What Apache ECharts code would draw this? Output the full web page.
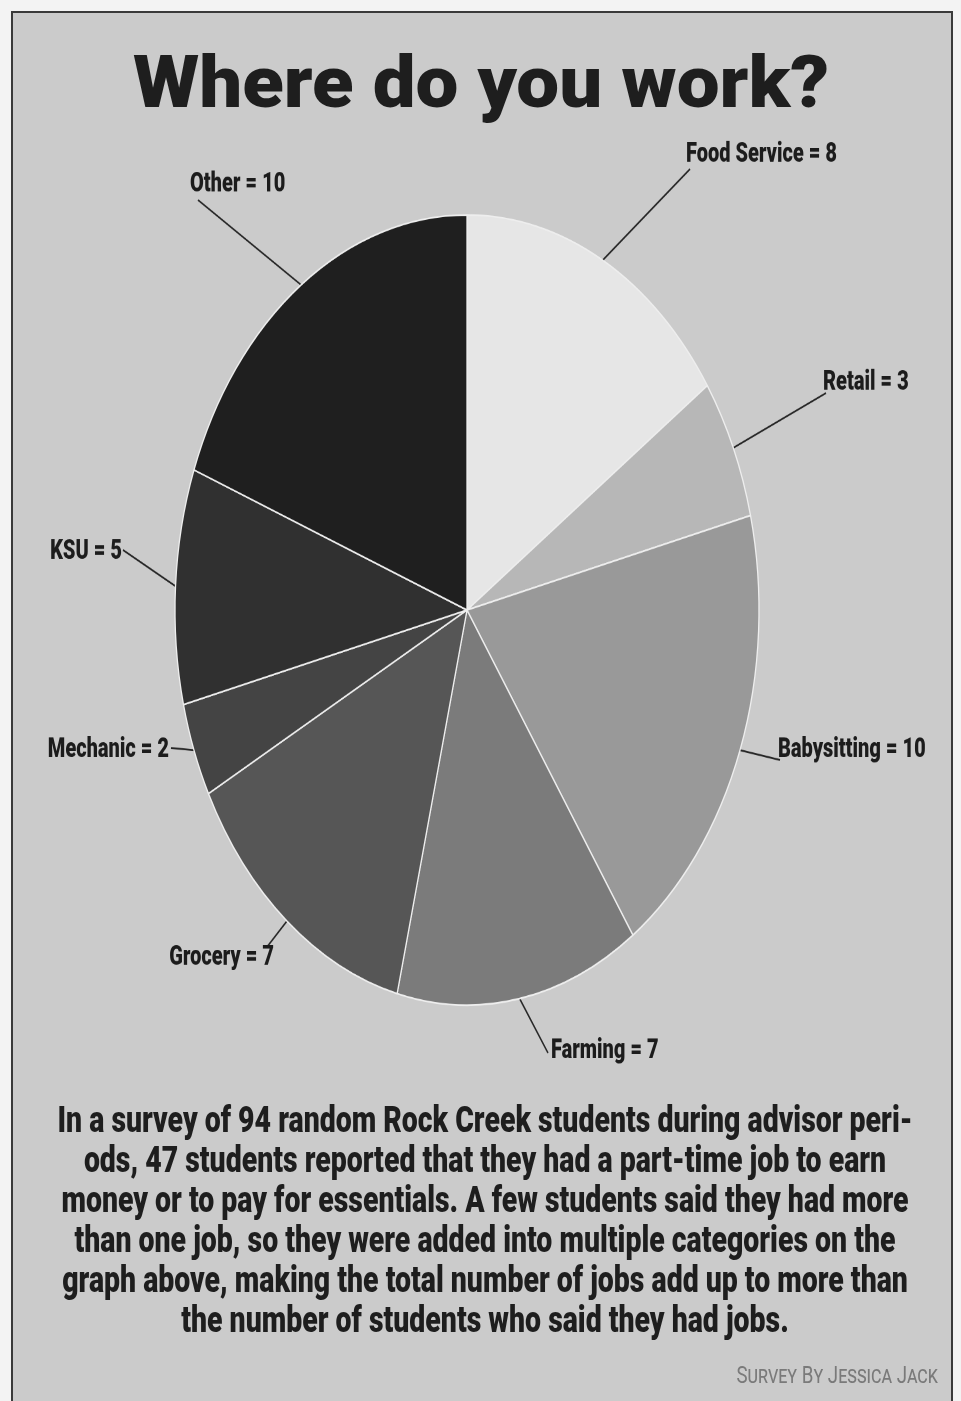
<!DOCTYPE html>
<html><head><meta charset="utf-8">
<script src="https://cdn.jsdelivr.net/npm/echarts@6/dist/echarts.min.js"></script>
<style>
html,body{margin:0;padding:0;background:#f3f3f3;overflow:hidden;}
#bg{position:absolute;left:0;top:0;width:961px;height:1401px;}
#pie{position:absolute;left:0;top:0;width:961px;height:1036px;transform:scaleY(1.353);transform-origin:0 0;}
</style></head><body>
<div id="bg"></div><div id="pie"></div>
<script>
// ---- data ----
const categories = ['Food Service', 'Retail', 'Babysitting', 'Farming', 'Grocery', 'Mechanic', 'KSU', 'Other'];
const jobCounts = [8, 3, 10, 7, 7, 2, 5, 10];
const titleText = 'Where do you work?';
const captionLines = [
  'In a survey of 94 random Rock Creek students during advisor peri-',
  'ods, 47 students reported that they had a part-time job to earn',
  'money or to pay for essentials. A few students said they had more',
  'than one job, so they were added into multiple categories on the',
  'graph above, making the total number of jobs add up to more than',
  'the number of students who said they had jobs.'
];
const creditText = 'Survey By Jessica Jack';

// ---- styles / layout ----
const S = 1.353; // vertical stretch of the pie (ellipse)
const sliceColors = ['#e6e6e6', '#b7b7b7', '#999999', '#7b7b7b', '#565656', '#444444', '#303030', '#1f1f1f'];
// label placement in page pixels: anchor x, center y, alignment, guide-line end
const labelPlacement = {
  'Food Service': { x: 686, y: 155, align: 'left', ex: 690, ey: 169 },
  'Retail': { x: 823, y: 383, align: 'left', ex: 826, ey: 393 },
  'Babysitting': { x: 778, y: 750, align: 'left', ex: 780, ey: 760 },
  'Farming': { x: 551, y: 1051, align: 'left', ex: 548, ey: 1053 },
  'Grocery': { x: 274, y: 958, align: 'right', ex: 267, ey: 947 },
  'Mechanic': { x: 169, y: 750, align: 'right', ex: 171, ey: 748 },
  'KSU': { x: 122, y: 552, align: 'right', ex: 123, ey: 550 },
  'Other': { x: 190, y: 185, align: 'left', ex: 198, ey: 200 }
};

const bg = echarts.init(document.getElementById('bg'), null, { renderer: 'canvas' });
const captionEls = captionLines.map((line, i) => ({
  type: 'text', x: 485, y: 1123 + i * 40, scaleX: 0.79, originX: 0, originY: 0,
  style: { text: line, fill: '#1e1e1e', font: '900 36px Roboto', textAlign: 'center', textVerticalAlign: 'middle' }
}));
bg.setOption({
  animation: false,
  graphic: [
    { type: 'rect', shape: { x: 0, y: 0, width: 961, height: 1401 }, style: { fill: '#f3f3f3' } },
    { type: 'rect', shape: { x: 12, y: 12, width: 940, height: 1400 }, style: { fill: '#cbcbcb', stroke: '#3a3a3a', lineWidth: 2 } },
    { type: 'text', x: 481, y: 89, scaleX: 1.045, originX: 0, originY: 0,
      style: { text: titleText, fill: '#1e1e1e', font: '900 73px Roboto', textAlign: 'center', textVerticalAlign: 'middle' } },
    ...captionEls,
    { type: 'text', x: 938, y: 1377, scaleX: 0.78, originX: 0, originY: 0,
      style: { text: creditText, fill: '#7a7a7a', font: 'small-caps 24px Roboto', textAlign: 'right', textVerticalAlign: 'middle' } }
  ]
});

const pie = echarts.init(document.getElementById('pie'), null, { renderer: 'canvas', devicePixelRatio: 2 });
pie.setOption({
  animation: false,
  series: [{
    type: 'pie',
    center: [467, 610 / S],
    radius: 292,
    startAngle: 90,
    clockwise: true,
    avoidLabelOverlap: false,
    emphasis: { disabled: true },
    silent: true,
    data: categories.map((c, i) => ({ name: c, value: jobCounts[i], itemStyle: { color: sliceColors[i] } })),
    itemStyle: { borderColor: '#eeeeee', borderWidth: 1.3 },
    label: {
      show: true, position: 'outside', formatter: '{b} = {c}',
      fontFamily: 'Roboto', fontWeight: 900, fontSize: 20, color: '#1c1c1c'
    },
    labelLine: { show: true, length: 20, length2: 0, lineStyle: { color: '#262626', width: 1.4 } },
    labelLayout: function (p) {
      const name = categories[p.dataIndex];
      const pl = labelPlacement[name];
      const out = { x: pl.x, y: pl.y / S, align: pl.align, verticalAlign: 'middle' };
      if (p.labelLinePoints && p.labelLinePoints.length) {
        const st = p.labelLinePoints[0];
        out.labelLinePoints = [[st[0], st[1]], [pl.ex, pl.ey / S]];
      }
      return out;
    }
  }]
});
</script>
</body></html>
